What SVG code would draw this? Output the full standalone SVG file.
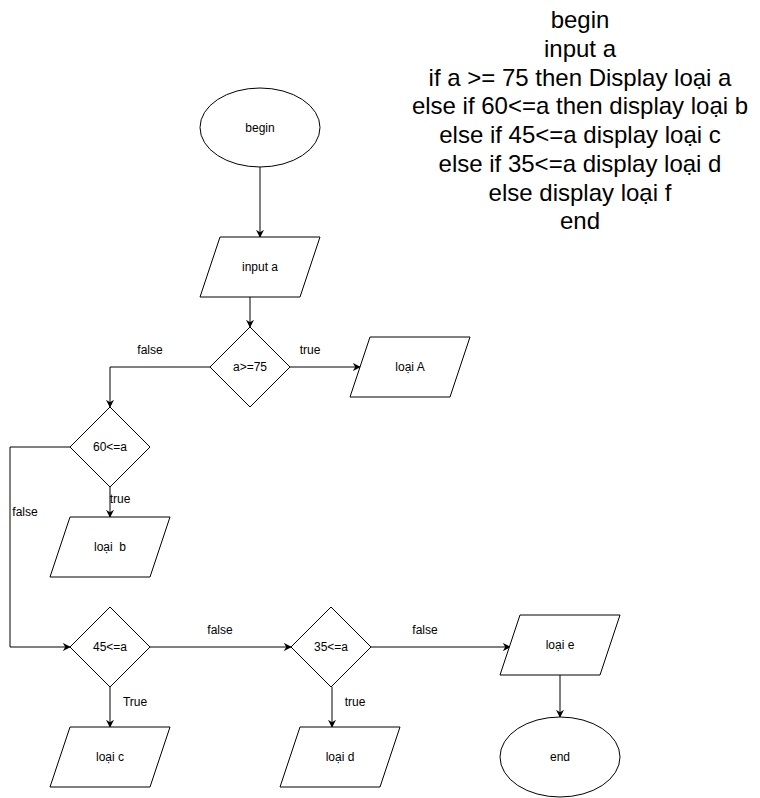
<svg xmlns="http://www.w3.org/2000/svg" width="760" height="798" viewBox="0 0 760 798">
<defs>
<marker id="arr" viewBox="0 0 10 10" refX="9" refY="5" markerWidth="8" markerHeight="8" markerUnits="userSpaceOnUse" orient="auto">
<path d="M0,0 L10,5 L0,10 L3,5 Z" fill="#000"/>
</marker>
</defs>
<style>
.shape{fill:#fff;stroke:#000;stroke-width:1}
.lbl{font-family:"Liberation Sans",Arial,sans-serif;font-size:12px;fill:#000;text-anchor:middle;dominant-baseline:central}
.elbl{font-family:"Liberation Sans",Arial,sans-serif;font-size:12px;fill:#000;text-anchor:middle;dominant-baseline:central}
.edge{fill:none;stroke:#000;stroke-width:1;marker-end:url(#arr)}
.big{font-family:"Liberation Sans",Arial,sans-serif;font-size:24px;fill:#000;text-anchor:middle}
</style>
<rect width="760" height="798" fill="#fff"/>
<g id="pseudocode">
<text class="big" x="580" y="28">begin</text>
<text class="big" x="580" y="57">input a</text>
<text class="big" x="580" y="85.5">if a &gt;= 75 then Display loại a</text>
<text class="big" x="580" y="114">else if 60&lt;=a then display loại b</text>
<text class="big" x="580" y="143">else if 45&lt;=a display loại c</text>
<text class="big" x="580" y="172">else if 35&lt;=a display loại d</text>
<text class="big" x="580" y="200.5">else display loại f</text>
<text class="big" x="580" y="229">end</text>
</g>
<g id="connectors">
<path class="edge" d="M260,167 L260,237"/>
<path class="edge" d="M250,297 L250,327"/>
<path class="edge" d="M290,367 L360,367"/>
<text class="elbl" x="310" y="350">true</text>
<path class="edge" d="M210,367 L110,367 L110,407"/>
<text class="elbl" x="150" y="350">false</text>
<path class="edge" d="M110,487 L110,517"/>
<text class="elbl" x="120" y="499">true</text>
<path class="edge" d="M70,447 L10,447 L10,647 L70,647"/>
<text class="elbl" x="25" y="512">false</text>
<path class="edge" d="M110,687 L110,727"/>
<text class="elbl" x="135" y="702">True</text>
<path class="edge" d="M150,647 L291,647"/>
<text class="elbl" x="220" y="630">false</text>
<path class="edge" d="M332,687 L332,727"/>
<text class="elbl" x="355" y="702">true</text>
<path class="edge" d="M371,647 L510,647"/>
<text class="elbl" x="425" y="630">false</text>
<path class="edge" d="M560,675 L560,717"/>
</g>
<g id="begin">
<ellipse class="shape" cx="260" cy="127.5" rx="60" ry="39.5"/>
<text class="lbl" x="260" y="127.5">begin</text>
</g>
<g id="input">
<polygon class="shape" points="220,237 320,237 300,297 200,297"/>
<text class="lbl" x="260" y="267">input a</text>
</g>
<g id="d75">
<polygon class="shape" points="250,327 290,367 250,407 210,367"/>
<text class="lbl" x="250" y="367">a&gt;=75</text>
</g>
<g id="loaiA">
<polygon class="shape" points="370,337 470,337 450,397 350,397"/>
<text class="lbl" x="410" y="367">loại A</text>
</g>
<g id="d60">
<polygon class="shape" points="110,407 150,447 110,487 70,447"/>
<text class="lbl" x="110" y="447">60&lt;=a</text>
</g>
<g id="loaiB">
<polygon class="shape" points="70,517 170,517 150,577 50,577"/>
<text class="lbl" x="110" y="547" xml:space="preserve">loại  b</text>
</g>
<g id="d45">
<polygon class="shape" points="110,607 150,647 110,687 70,647"/>
<text class="lbl" x="110" y="647">45&lt;=a</text>
</g>
<g id="loaiC">
<polygon class="shape" points="70,727 170,727 150,787 50,787"/>
<text class="lbl" x="110" y="757">loại c</text>
</g>
<g id="d35">
<polygon class="shape" points="331,607 371,647 331,687 291,647"/>
<text class="lbl" x="331" y="647">35&lt;=a</text>
</g>
<g id="loaiD">
<polygon class="shape" points="300,727 400,727 380,787 280,787"/>
<text class="lbl" x="340" y="757">loại d</text>
</g>
<g id="loaiE">
<polygon class="shape" points="520,615 620,615 600,675 500,675"/>
<text class="lbl" x="560" y="645">loại e</text>
</g>
<g id="end">
<ellipse class="shape" cx="560" cy="757" rx="60" ry="40"/>
<text class="lbl" x="560" y="757">end</text>
</g>
</svg>
